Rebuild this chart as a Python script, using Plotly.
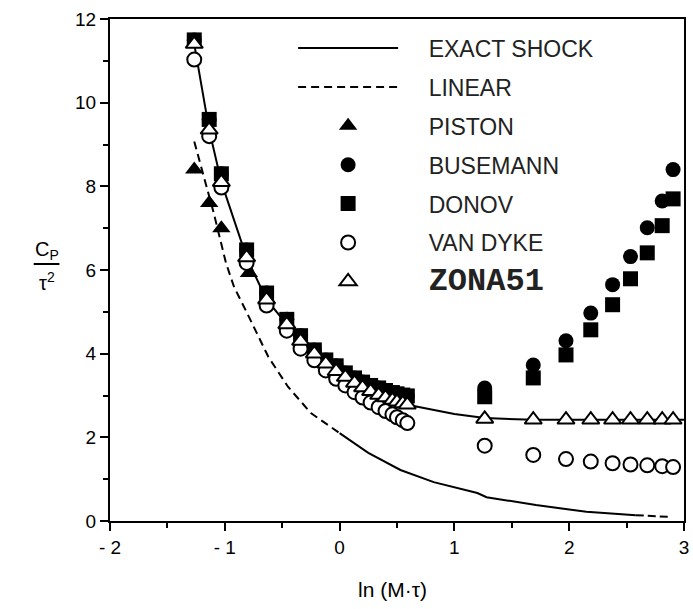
import plotly.graph_objects as go

# ---------------- data ----------------
shock_x = [-1.266, -1.136, -1.03, -0.81, -0.636, -0.46, -0.34, -0.22, -0.12, -0.03, 0.05, 0.13,
           0.20, 0.27, 0.34, 0.40, 0.46, 0.50, 0.55, 0.59, 0.80, 1.00, 1.264, 1.687, 2.2, 2.6, 3.0]
shock_y = [11.40, 9.35, 8.10, 6.30, 5.29, 4.70, 4.30, 4.00, 3.76, 3.58, 3.44, 3.30,
           3.19, 3.10, 3.01, 2.95, 2.89, 2.85, 2.81, 2.78, 2.66, 2.56, 2.46, 2.42, 2.42, 2.42, 2.42]

linear_x = [-1.266, -1.10, -0.99, -0.92, -0.79, -0.62, -0.45, -0.25, 0.0, 0.25, 0.53, 0.82,
            1.20, 1.28, 1.71, 2.15, 2.58, 2.86]
linear_y = [9.07, 7.40, 6.17, 5.60, 4.88, 3.92, 3.21, 2.58, 2.10, 1.63, 1.22, 0.93,
            0.67, 0.57, 0.38, 0.22, 0.14, 0.10]

piston_x = [-1.266, -1.136, -1.03, -0.79]
piston_y = [8.40, 7.60, 7.00, 5.93]

col_x = [-1.266, -1.136, -1.03, -0.81, -0.636, -0.46, -0.34, -0.22, -0.12, -0.03, 0.05, 0.13,
         0.20, 0.27, 0.34, 0.40, 0.46, 0.50, 0.55, 0.59,
         1.264, 1.687, 1.972, 2.188, 2.378, 2.534, 2.68, 2.81, 2.905]

busemann_y = [11.50, 9.60, 8.30, 6.48, 5.45, 4.82, 4.43, 4.09, 3.85, 3.71, 3.54, 3.42,
              3.32, 3.24, 3.18, 3.12, 3.07, 3.04, 3.01, 2.99,
              3.18, 3.73, 4.31, 4.97, 5.65, 6.32, 7.01, 7.65, 8.40]
donov_y = [11.50, 9.60, 8.30, 6.48, 5.45, 4.82, 4.43, 4.09, 3.85, 3.71, 3.54, 3.42,
           3.32, 3.24, 3.18, 3.12, 3.07, 3.04, 3.01, 2.99,
           2.97, 3.42, 3.97, 4.57, 5.17, 5.79, 6.41, 7.06, 7.70]
vandyke_y = [11.03, 9.20, 7.97, 6.17, 5.15, 4.55, 4.12, 3.84, 3.60, 3.40, 3.24, 3.08,
             2.95, 2.83, 2.72, 2.63, 2.55, 2.48, 2.41, 2.34,
             1.80, 1.58, 1.48, 1.42, 1.38, 1.35, 1.33, 1.31, 1.29]
zona_y = [11.40, 9.35, 8.10, 6.30, 5.29, 4.70, 4.30, 4.00, 3.76, 3.58, 3.44, 3.30,
          3.19, 3.10, 3.01, 2.95, 2.89, 2.85, 2.81, 2.78,
          2.44, 2.42, 2.42, 2.42, 2.42, 2.42, 2.42, 2.42, 2.42]

x_ticks = [-2, -1, 0, 1, 2, 3]
x_ticktext = ["- 2", "- 1", "0", "1", "2", "3"]
y_ticks = [0, 2, 4, 6, 8, 10, 12]

# ---------------- figure ----------------
FONT = "Liberation Sans, Arial, sans-serif"
PAD = "\u00a0" * 4   # gap between legend symbol and legend text

fig = go.Figure()

fig.add_trace(go.Scatter(x=shock_x, y=shock_y, mode="lines", name=PAD + "EXACT SHOCK",
                         line=dict(color="black", width=2), legendgroup="a", legendrank=1))
# linear theory: dashed at the start, solid-looking in the middle, dashed at the end
fig.add_trace(go.Scatter(x=linear_x[:9], y=linear_y[:9], mode="lines", name=PAD + "LINEAR",
                         line=dict(color="black", width=2, dash="8px,5px"),
                         legendgroup="b", legendrank=2))
fig.add_trace(go.Scatter(x=linear_x[8:17], y=linear_y[8:17], mode="lines", showlegend=False,
                         line=dict(color="black", width=2), legendgroup="b"))
fig.add_trace(go.Scatter(x=linear_x[16:], y=linear_y[16:], mode="lines", showlegend=False,
                         line=dict(color="black", width=2, dash="8px,4px"), legendgroup="b"))

fig.add_trace(go.Scatter(x=piston_x, y=piston_y, mode="markers", name=PAD + "PISTON",
                         marker=dict(symbol="triangle-up", size=16, color="black"),
                         legendgroup="c", legendrank=3))
fig.add_trace(go.Scatter(x=col_x, y=busemann_y, mode="markers", name=PAD + "BUSEMANN",
                         marker=dict(symbol="circle", size=15, color="black"),
                         legendgroup="d", legendrank=4))
fig.add_trace(go.Scatter(x=col_x, y=donov_y, mode="markers", name=PAD + "DONOV",
                         marker=dict(symbol="square", size=15, color="black"),
                         legendgroup="e", legendrank=5))
fig.add_trace(go.Scatter(x=col_x, y=vandyke_y, mode="markers", name=PAD + "VAN DYKE",
                         marker=dict(symbol="circle", size=14, color="white",
                                     line=dict(color="black", width=2)),
                         legendgroup="f", legendrank=6))
fig.add_trace(go.Scatter(x=col_x, y=zona_y, mode="markers",
                         name=PAD + "<span style='font-family:Liberation Mono, Courier New, monospace;"
                              "font-size:32px;font-weight:bold'>ZONA51</span>",
                         marker=dict(symbol="triangle-up", size=15, color="white",
                                     line=dict(color="black", width=2)),
                         legendgroup="g", legendrank=7))

W, H = 693, 609
L, R, T, B = 110, 4, 19, 88

fig.update_layout(
    width=W, height=H,
    margin=dict(l=L, r=R, t=T, b=B),
    paper_bgcolor="white", plot_bgcolor="white",
    font=dict(family=FONT, color="black", size=19),
    showlegend=True,
    legend=dict(x=0.319, y=0.985, xanchor="left", yanchor="top",
                bgcolor="rgba(0,0,0,0)", borderwidth=0,
                font=dict(family=FONT, size=23, color="#222"),
                itemwidth=100, tracegroupgap=6, traceorder="grouped",
                itemsizing="trace"),
    xaxis=dict(range=[-2, 3], tickvals=x_ticks, ticktext=x_ticktext,
               showgrid=False, zeroline=False, showline=True, linecolor="black",
               linewidth=2, mirror=True, ticks="outside", ticklen=8, tickwidth=2,
               tickcolor="black", tickfont=dict(size=19),
               minor=dict(dtick=0.5, ticks="outside", ticklen=5, tickwidth=2,
                          tickcolor="black", showgrid=False)),
    yaxis=dict(range=[0, 12], tickvals=y_ticks,
               showgrid=False, zeroline=False, showline=True, linecolor="black",
               linewidth=2, mirror=True, ticks="outside", ticklen=8, tickwidth=2,
               tickcolor="black", tickfont=dict(size=19),
               minor=dict(dtick=1, ticks="outside", ticklen=5, tickwidth=2,
                          tickcolor="black", showgrid=False)),
)

# axis titles
pw = W - L - R
ph = H - T - B
fig.add_annotation(text="ln (M·τ)", xref="paper", yref="paper",
                   x=(395 - L) / pw, y=(H - B - 590) / ph,
                   xanchor="center", yanchor="middle", showarrow=False,
                   font=dict(size=21, family=FONT))
fig.add_annotation(text="C<sub>P</sub>", xref="paper", yref="paper",
                   x=(46 - L) / pw, y=(H - B - 250) / ph,
                   xanchor="center", yanchor="middle", showarrow=False,
                   font=dict(size=20, family=FONT))
fig.add_annotation(text="τ<sup>2</sup>", xref="paper", yref="paper",
                   x=(46 - L) / pw, y=(H - B - 281) / ph,
                   xanchor="center", yanchor="middle", showarrow=False,
                   font=dict(size=20, family=FONT))
fig.add_shape(type="line", xref="paper", yref="paper",
              x0=(33 - L) / pw, x1=(59 - L) / pw,
              y0=(H - B - 264) / ph, y1=(H - B - 264) / ph,
              line=dict(color="black", width=2))

fig.write_html("out.html")
